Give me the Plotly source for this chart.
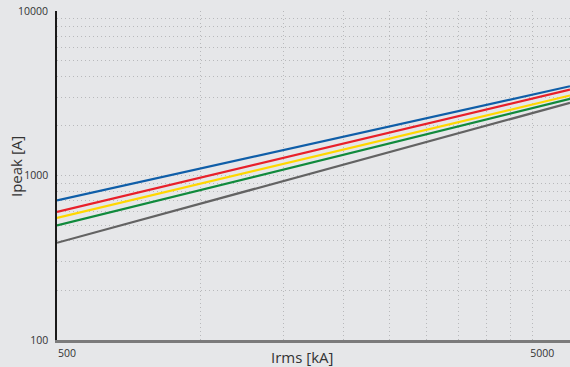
import plotly.graph_objects as go
import math

# Data
irms = [500, 6000]
ipeak_blue = [705, 3490]
ipeak_red = [601, 3330]
ipeak_yellow = [553, 3065]
ipeak_green = [497, 2925]
ipeak_gray = [390, 2765]

series = [
    ("blue", ipeak_blue, "#0f5ea8"),
    ("red", ipeak_red, "#e8202a"),
    ("yellow", ipeak_yellow, "#ffd700"),
    ("green", ipeak_green, "#108a3c"),
    ("gray", ipeak_gray, "#636363"),
]

x_grid = [500, 1000, 1500, 2000, 2500, 3000, 3500, 4000, 4500, 5000]
x_text = ["500", "", "", "", "", "", "", "", "", "5000"]
y_grid = [100, 200, 300, 400, 500, 600, 700, 800, 900, 1000,
          2000, 3000, 4000, 5000, 6000, 7000, 8000, 9000, 10000]
y_text = ["100"] + [""] * 8 + ["1000"] + [""] * 8 + ["10000"]

bg = "#e6e7e9"
grid = "#b8b9bb"

fig = go.Figure()
for name, vals, col in series:
    fig.add_trace(go.Scatter(x=irms, y=vals, mode="lines", name=name,
                             line=dict(color=col, width=2.2), showlegend=False))

fig.update_layout(
    width=570, height=367,
    margin=dict(l=57, r=0, t=11, b=27),
    paper_bgcolor=bg, plot_bgcolor=bg,
    font=dict(family="Open Sans", color="#333333", size=10.5),
    xaxis=dict(type="log", range=[math.log10(500), math.log10(6000)],
               tickmode="array", tickvals=x_grid, ticktext=x_text,
               showgrid=True, gridcolor=grid, griddash="1px,3px", gridwidth=1,
               showline=True, linecolor="#7b7b7b", linewidth=2.5,
               ticks="", ticklabelshift=10, ticklabelstandoff=2,
               zeroline=False),
    yaxis=dict(type="log", range=[2, 4],
               tickmode="array", tickvals=y_grid, ticktext=y_text,
               showgrid=True, gridcolor=grid, griddash="1px,3px", gridwidth=1,
               showline=True, linecolor="#1a1a1a", linewidth=1.5,
               ticks="", ticklabelstandoff=5, zeroline=False),
    annotations=[
        dict(text="Irms [kA]", xref="paper", yref="paper", x=(302 - 57) / 513,
             y=(367 - 357 - 27) / 329, xanchor="center", yanchor="middle",
             showarrow=False, font=dict(size=15, color="#333333", family="Open Sans")),
        dict(text="Ipeak [A]", xref="paper", yref="paper", x=(16 - 57) / 513,
             y=(367 - 167 - 27) / 329, xanchor="center", yanchor="middle",
             textangle=-90, showarrow=False,
             font=dict(size=15, color="#333333", family="Open Sans")),
    ],
)

fig.write_html("out.html")
